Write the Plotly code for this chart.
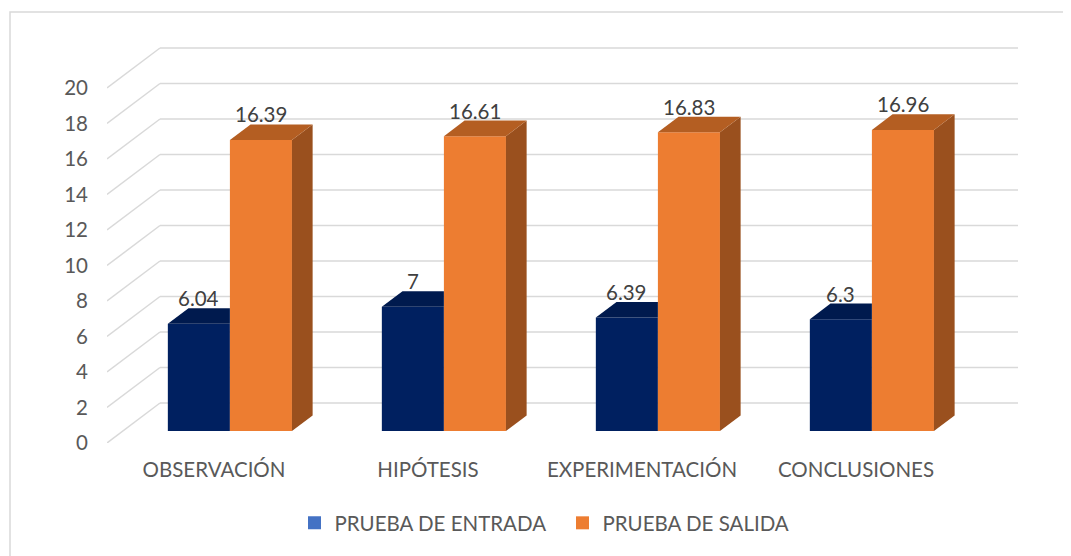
import plotly.graph_objects as go

# ---- data ----
categories = ["OBSERVACIÓN", "HIPÓTESIS", "EXPERIMENTACIÓN", "CONCLUSIONES"]
entrada = [6.04, 7, 6.39, 6.3]
salida = [16.39, 16.61, 16.83, 16.96]
series_names = ["PRUEBA DE ENTRADA", "PRUEBA DE SALIDA"]
y_ticks = list(range(0, 21, 2))

# ---- styling / geometry (figure pixels; page body adds an 8px margin) ----
OFF = 8
W, H = 1055, 556
plot_w, plot_h = 911, 403
ML, MT = 107 - OFF, 40 - OFF
MR = W - ML - plot_w
MB = H - MT - plot_h
px_per_cat = 214.0
px_per_unit = 17.75
x_max = plot_w / px_per_cat
y_max = plot_h / px_per_unit
DX = 53 / px_per_cat          # depth offset in x units (full depth)
DY = 40 / px_per_unit         # depth offset in y units (full depth)
D0, D1 = 0.30, 0.69           # bar depth extent
BW = 0.29                     # bar width (category units)

FONT = "Lato, 'Open Sans', sans-serif"
FS = 20.5
TXT = "#595959"
GRID = "#D9D9D9"

colors = {
    "front": ["#002060", "#ED7D31"],
    "top": ["#001a4e", "#B45E22"],
    "side": ["#00163f", "#9A501E"],
    "legend": ["#4472C4", "#ED7D31"],
}

fig = go.Figure()

# gridlines (pseudo 3D: diagonal from front to back wall, then along back wall)
shapes = []
for v in y_ticks:
    shapes.append(dict(type="line", xref="x", yref="y", x0=0, y0=v, x1=DX, y1=v + DY,
                       line=dict(color=GRID, width=1.5), layer="below"))
    shapes.append(dict(type="line", xref="x", yref="y", x0=DX, y0=v + DY, x1=x_max, y1=v + DY,
                       line=dict(color=GRID, width=1.5), layer="below"))


def px2paper_x(p):
    return (p - OFF - ML) / plot_w


def px2paper_y(p):
    return (MT + plot_h - (p - OFF)) / plot_h


# chart border
shapes.append(dict(type="rect", xref="paper", yref="paper",
                   x0=px2paper_x(10), x1=px2paper_x(1100),
                   y0=px2paper_y(600), y1=px2paper_y(12),
                   line=dict(color=GRID, width=1.5), fillcolor="rgba(0,0,0,0)", layer="below"))

series = [entrada, salida]
annotations = []
for s, vals in enumerate(series):
    lefts = [i + 0.5 - BW + s * BW for i in range(len(categories))]
    # front faces
    fig.add_trace(go.Bar(
        x=[l + BW / 2 + D0 * DX for l in lefts],
        y=vals,
        base=[D0 * DY] * len(vals),
        width=BW,
        marker=dict(color=colors["front"][s], line=dict(width=0)),
        showlegend=False, hoverinfo="skip", name=series_names[s],
    ))

for s, vals in enumerate(series):
    lefts = [i + 0.5 - BW + s * BW for i in range(len(categories))]
    for l, v in zip(lefts, vals):
        xl = l + D0 * DX
        xr = l + BW + D0 * DX
        yb = D0 * DY
        yt = v + D0 * DY
        ddx = (D1 - D0) * DX
        ddy = (D1 - D0) * DY
        if s == 0:
            # top face clipped by the neighbouring taller bar
            tx = [xl, xr, xr, xl + ddx, xl]
            ty = [yt, yt, yt + ddy, yt + ddy, yt]
        else:
            tx = [xl, xr, xr + ddx, xl + ddx, xl]
            ty = [yt, yt, yt + ddy, yt + ddy, yt]
            # side face
            fig.add_trace(go.Scatter(
                x=[xr, xr + ddx, xr + ddx, xr, xr], y=[yb, yb + ddy, yt + ddy, yt, yb],
                mode="lines", fill="toself", fillcolor=colors["side"][s],
                line=dict(width=0, color=colors["side"][s]),
                showlegend=False, hoverinfo="skip"))
        fig.add_trace(go.Scatter(
            x=tx, y=ty, mode="lines", fill="toself", fillcolor=colors["top"][s],
            line=dict(width=0, color=colors["top"][s]),
            showlegend=False, hoverinfo="skip"))
        annotations.append(dict(
            x=(xl + xr) / 2, y=v + D1 * DY, xref="x", yref="y",
            text=f"{v:g}", showarrow=False, yanchor="middle", yshift=10,
            font=dict(family=FONT, size=FS, color="#404040")))

# legend entries
for s in range(2):
    fig.add_trace(go.Scatter(
        x=[None], y=[None], mode="markers", name=series_names[s],
        marker=dict(symbol="square", size=13, color=colors["legend"][s]),
        showlegend=True))

fig.update_layout(
    width=W, height=H, autosize=False,
    margin=dict(l=ML, r=MR, t=MT, b=MB),
    paper_bgcolor="white", plot_bgcolor="white",
    barmode="overlay",
    shapes=shapes, annotations=annotations,
    font=dict(family=FONT, size=FS, color=TXT),
    showlegend=True,
    legend=dict(orientation="h", x=0.5, xanchor="center", y=px2paper_y(523), yanchor="middle",
                font=dict(family=FONT, size=FS, color=TXT), entrywidth=223,
                entrywidthmode="pixels", bgcolor="rgba(0,0,0,0)"),
    xaxis=dict(range=[0, x_max], showgrid=False, zeroline=False, showline=False,
               tickmode="array", tickvals=[i + 0.5 for i in range(len(categories))],
               ticktext=categories, ticks="", ticklabelstandoff=12, fixedrange=True),
    yaxis=dict(range=[0, y_max], showgrid=False, zeroline=False, showline=False,
               tickmode="array", tickvals=y_ticks, ticktext=[str(t) for t in y_ticks],
               ticks="", ticklabelstandoff=18, fixedrange=True),
)

fig.write_html("out.html")
